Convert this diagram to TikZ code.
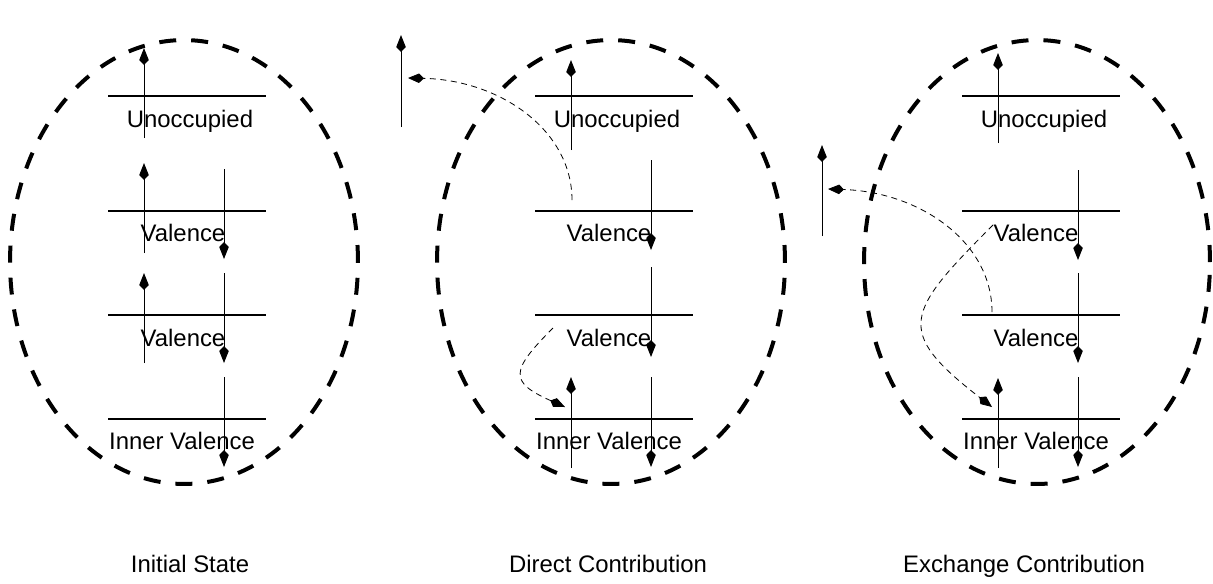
\documentclass[tikz,border=0pt]{standalone}
\usepackage{fontspec}
\setmainfont{Liberation Sans}
\usetikzlibrary{arrows.meta}

\begin{document}
\begin{tikzpicture}[x=0.02cm, y=-0.02cm,
    shell/.style={line width=0.08cm, dash pattern=on 0.34cm off 0.30cm},
    level/.style={line width=0.04cm},
    spin/.style={line width=0.02cm, -{Kite[length=0.34cm, width=0.19cm, inset=0.10cm]}},
    hop/.style={line width=0.016cm, dash pattern=on 0.12cm off 0.09cm,
                -{Kite[length=0.32cm, width=0.19cm, inset=0.10cm]}},
    lbl/.style={font=\fontsize{13.6}{16}\selectfont, inner sep=0pt, anchor=base}]

    \useasboundingbox (0,0) rectangle (1213,583);

    % ── Shells ────────────────────────────────────────────────────────────────
    \draw[shell] (184,262) ellipse [x radius=3.48cm, y radius=4.44cm];
    \draw[shell] (611,262) ellipse [x radius=3.48cm, y radius=4.44cm];
    \draw[shell] (1037,262) ellipse [x radius=3.46cm, y radius=4.44cm];

    % ── Initial state: levels ────────────────────────────────────────────────
    \draw[level] (108,96) -- (266,96);
    \draw[level] (108,211) -- (266,211);
    \draw[level] (108,315) -- (266,315);
    \draw[level] (108,419) -- (266,419);
    \node[lbl] (ini-unocc) at (190,127) {Unoccupied};
    \node[lbl] (ini-val1) at (183,241) {Valence};
    \node[lbl] (ini-val2) at (183,346) {Valence};
    \node[lbl] (ini-inner) at (182,449) {Inner Valence};

    % ── Initial state: spins ─────────────────────────────────────────────────
    \draw[spin] (144,138) -- (144,48);
    \draw[spin] (144,253) -- (144,163);
    \draw[spin] (224,169) -- (224,259);
    \draw[spin] (144,363) -- (144,273);
    \draw[spin] (224,273) -- (224,363);
    \draw[spin] (224,377) -- (224,467);

    % ── Direct contribution: levels ──────────────────────────────────────────
    \draw[level] (535,96) -- (693,96);
    \draw[level] (535,211) -- (693,211);
    \draw[level] (535,315) -- (693,315);
    \draw[level] (535,419) -- (693,419);
    \node[lbl] (dir-unocc) at (617,127) {Unoccupied};
    \node[lbl] (dir-val1) at (609,241) {Valence};
    \node[lbl] (dir-val2) at (609,346) {Valence};
    \node[lbl] (dir-inner) at (609,449) {Inner Valence};

    % ── Direct contribution: spins ───────────────────────────────────────────
    \draw[spin] (571,150) -- (571,60);
    \draw[spin] (651,160) -- (651,250);
    \draw[spin] (651,267) -- (651,357);
    \draw[spin] (571,468) -- (571,377);
    \draw[spin] (651,377) -- (651,467);
    \draw[spin] (401,127) -- (401,35);

    % ── Direct contribution: transitions ─────────────────────────────────────
    \coordinate (dir-out) at (572,200);
    \coordinate (dir-free) at (408,78);
    \coordinate (dir-down) at (553,328);
    \coordinate (dir-hole) at (565,407);
    \draw[hop] (dir-out) .. controls (572,130) and (500,80) .. (dir-free);
    \draw[hop] (dir-down) .. controls (510,371) and (509,382) .. (dir-hole);

    % ── Exchange contribution: levels ────────────────────────────────────────
    \draw[level] (962,96) -- (1120,96);
    \draw[level] (962,211) -- (1120,211);
    \draw[level] (962,315) -- (1120,315);
    \draw[level] (962,419) -- (1120,419);
    \node[lbl] (exc-unocc) at (1044,127) {Unoccupied};
    \node[lbl] (exc-val1) at (1036,241) {Valence};
    \node[lbl] (exc-val2) at (1036,346) {Valence};
    \node[lbl] (exc-inner) at (1036,449) {Inner Valence};

    % ── Exchange contribution: spins ─────────────────────────────────────────
    \draw[spin] (998,143) -- (998,53);
    \draw[spin] (1078,170) -- (1078,260);
    \draw[spin] (1078,273) -- (1078,363);
    \draw[spin] (998,468) -- (998,378);
    \draw[spin] (1078,377) -- (1078,467);
    \draw[spin] (822,236) -- (822,145);

    % ── Exchange contribution: transitions ───────────────────────────────────
    \coordinate (exc-out) at (992,312);
    \coordinate (exc-free) at (828,189);
    \coordinate (exc-down) at (993,225);
    \coordinate (exc-hole) at (992,407);
    \draw[hop] (exc-out) .. controls (992,242) and (920,192) .. (exc-free);
    \draw[hop] (exc-down) .. controls (905,313) and (894,331) .. (exc-hole);

    % ── Captions ─────────────────────────────────────────────────────────────
    \node[lbl] (cap-ini) at (190,572) {Initial State};
    \node[lbl] (cap-dir) at (608,572) {Direct Contribution};
    \node[lbl] (cap-exc) at (1024,572) {Exchange Contribution};

\end{tikzpicture}
\end{document}
